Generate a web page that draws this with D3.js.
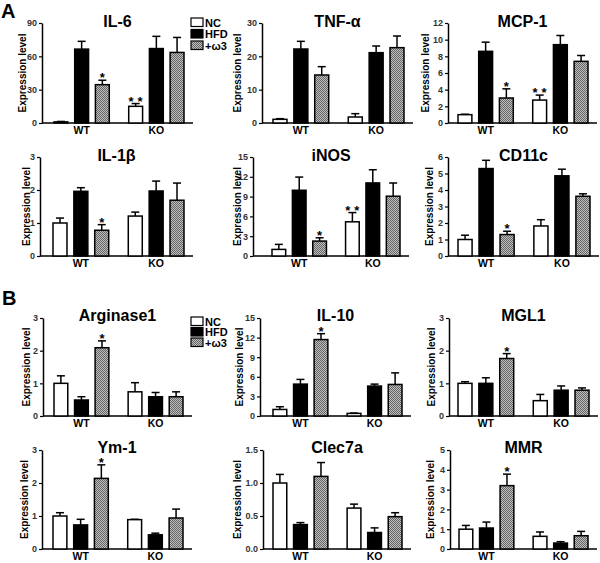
<!DOCTYPE html>
<html><head><meta charset="utf-8">
<script src="https://cdn.jsdelivr.net/npm/d3@7"></script>
<style>body{margin:0;background:#fff}svg{display:block}text{font-family:"Liberation Sans",Arial,sans-serif}</style>
</head><body><div id="chart"></div>
<script>
// ---------- data ----------
const groups = ["WT", "KO"];
const series = ["NC", "HFD", "+ω3"];

const il6Mean = [[1, 66.5, 34.5], [15, 67, 63.5]];
const il6Err  = [[0.4, 7, 4], [2.5, 11, 13.5]];
const il6Stars = [["", "", "*"], ["**", "", ""]];

const tnfMean = [[1.1, 22.2, 14.4], [1.8, 21.1, 22.6]];
const tnfErr  = [[0.2, 2.3, 2.5], [1.0, 2.0, 3.5]];
const tnfStars = [["", "", ""], ["", "", ""]];

const mcp1Mean = [[1.0, 8.6, 3.0], [2.75, 9.4, 7.4]];
const mcp1Err  = [[0.05, 1.1, 1.1], [0.6, 1.1, 0.7]];
const mcp1Stars = [["", "", "*"], ["**", "", ""]];

const il1bMean = [[1.0, 1.96, 0.78], [1.21, 1.97, 1.69]];
const il1bErr  = [[0.15, 0.11, 0.17], [0.12, 0.3, 0.52]];
const il1bStars = [["", "", "*"], ["", "", ""]];

const inosMean = [[1.0, 9.96, 2.26], [5.18, 11.07, 9.06]];
const inosErr  = [[0.76, 2.0, 0.5], [1.4, 2.0, 2.0]];
const inosStars = [["", "", "*"], ["**", "", ""]];

const cd11cMean = [[1.0, 5.3, 1.3], [1.82, 4.86, 3.62]];
const cd11cErr  = [[0.26, 0.5, 0.2], [0.38, 0.4, 0.15]];
const cd11cStars = [["", "", "*"], ["", "", ""]];

const arg1Mean = [[1.0, 0.49, 2.09], [0.74, 0.59, 0.59]];
const arg1Err  = [[0.23, 0.1, 0.21], [0.28, 0.13, 0.15]];
const arg1Stars = [["", "", "*"], ["", "", ""]];

const il10Mean = [[1.0, 4.88, 11.7], [0.4, 4.58, 4.83]];
const il10Err  = [[0.42, 0.72, 0.9], [0.05, 0.3, 1.77]];
const il10Stars = [["", "", "*"], ["", "", ""]];

const mgl1Mean = [[1.0, 1.0, 1.76], [0.47, 0.79, 0.79]];
const mgl1Err  = [[0.05, 0.17, 0.15], [0.19, 0.13, 0.07]];
const mgl1Stars = [["", "", "*"], ["", "", ""]];

const ym1Mean = [[1.0, 0.73, 2.14], [0.89, 0.43, 0.94]];
const ym1Err  = [[0.1, 0.17, 0.41], [0.01, 0.05, 0.27]];
const ym1Stars = [["", "", "*"], ["", "", ""]];

const clec7aMean = [[1.0, 0.37, 1.1], [0.62, 0.25, 0.49]];
const clec7aErr  = [[0.13, 0.03, 0.21], [0.06, 0.07, 0.06]];
const clec7aStars = [["", "", ""], ["", "", ""]];

const mmrMean = [[1.0, 1.06, 3.2], [0.64, 0.3, 0.67]];
const mmrErr  = [[0.19, 0.3, 0.58], [0.22, 0.07, 0.22]];
const mmrStars = [["", "", "*"], ["", "", ""]];

const yMax   = [90, 30, 12, 3, 15, 6, 3, 15, 3, 3, 1.5, 5];
const yStep  = [30, 10, 2, 1, 3, 1, 1, 3, 1, 1, 0.5, 1];
const titles = ["IL-6", "TNF-α", "MCP-1", "IL-1β", "iNOS", "CD11c",
                "Arginase1", "IL-10", "MGL1", "Ym-1", "Clec7a", "MMR"];
const yLabel = "Expression level";

const panelData = [
  [il6Mean, il6Err, il6Stars], [tnfMean, tnfErr, tnfStars], [mcp1Mean, mcp1Err, mcp1Stars],
  [il1bMean, il1bErr, il1bStars], [inosMean, inosErr, inosStars], [cd11cMean, cd11cErr, cd11cStars],
  [arg1Mean, arg1Err, arg1Stars], [il10Mean, il10Err, il10Stars], [mgl1Mean, mgl1Err, mgl1Stars],
  [ym1Mean, ym1Err, ym1Stars], [clec7aMean, clec7aErr, clec7aStars], [mmrMean, mmrErr, mmrStars]
];

// ---------- layout ----------
const rowTop = [23, 157, 318, 450], rowBot = [123, 256, 416, 549];
const titleBase = [27, 161, 321, 453];
// [axisX, barsLeft, barsRight, yLabelX]
const geom = [
  [42, 54, 184, 22], [262, 273, 404, 237], [448, 458, 588, 425],
  [40, 53, 184, 26], [253, 272, 400, 237], [448, 458, 590, 429],
  [43, 54, 183, 26], [260, 273, 402, 239], [449, 458, 589, 431],
  [42, 53, 183, 24], [263, 273, 402, 237], [450, 459, 588, 430]
];
const fills = ["#ffffff", "#000000", "url(#hatch)"];

const W = 600, H = 563;
const svg = d3.select("#chart").append("svg").attr("width", W).attr("height", H);
const defs = svg.append("defs");
const pat = defs.append("pattern").attr("id", "hatch").attr("patternUnits", "userSpaceOnUse")
  .attr("width", 2).attr("height", 2);
pat.append("rect").attr("width", 2).attr("height", 2).attr("fill", "#bdbdbd");
pat.append("rect").attr("x", 0).attr("y", 0).attr("width", 1).attr("height", 1).attr("fill", "#666");
pat.append("rect").attr("x", 1).attr("y", 1).attr("width", 1).attr("height", 1).attr("fill", "#666");

panelData.forEach((pd, i) => {
  const [means, errs, stars] = pd;
  const row = Math.floor(i / 3);
  const [axX, bL, bR, labX] = geom[i];
  const top = rowTop[row], bot = rowBot[row];
  const axEnd = bR + 9;
  const g = svg.append("g");

  const y = d3.scaleLinear().domain([0, yMax[i]]).range([bot, top]);
  const x0 = d3.scaleBand().domain(groups).range([bL, bR]).paddingInner(0.26).paddingOuter(0);
  const x1 = d3.scaleBand().domain(series).range([0, x0.bandwidth()]).paddingInner(0.33).paddingOuter(0);

  const ticks = d3.range(0, yMax[i] + yStep[i] / 2, yStep[i]);
  const fmt = yStep[i] < 1 ? d3.format(".1f") : d3.format("d");
  const yAxis = d3.axisLeft(y).tickValues(ticks).tickFormat(fmt).tickSizeInner(3).tickSizeOuter(0).tickPadding(2);
  const ag = g.append("g").attr("transform", `translate(${axX},0)`).call(yAxis);
  ag.select(".domain").attr("stroke", "#000").attr("stroke-width", 1.5);
  ag.selectAll(".tick line").attr("stroke", "#000").attr("stroke-width", 1.2);
  ag.selectAll(".tick text").attr("font-size", 9).attr("font-weight", "bold").attr("fill", "#333")
    .attr("font-family", '"Liberation Sans",Arial,sans-serif');

  g.append("line").attr("x1", axX).attr("x2", axEnd).attr("y1", bot).attr("y2", bot)
    .attr("stroke", "#000").attr("stroke-width", 1.5);
  groups.forEach(gr => {
    g.append("text").attr("x", x0(gr) + x0.bandwidth() / 2).attr("y", bot + 11)
      .attr("text-anchor", "middle").attr("font-size", 10.5).attr("font-weight", "bold").text(gr);
  });

  groups.forEach((gr, gi) => {
    series.forEach((s, si) => {
      const v = means[gi][si], e = errs[gi][si];
      const bx = x0(gr) + x1(s), bw = x1.bandwidth();
      const cx = bx + bw / 2;
      const yTop = y(v + e);
      if (e > 0) {
        g.append("line").attr("x1", cx).attr("x2", cx).attr("y1", y(v)).attr("y2", yTop)
          .attr("stroke", "#000").attr("stroke-width", 1.5);
        g.append("line").attr("x1", cx - 4).attr("x2", cx + 4).attr("y1", yTop).attr("y2", yTop)
          .attr("stroke", "#000").attr("stroke-width", 1.5);
      }
      g.append("rect").attr("x", bx).attr("y", y(v)).attr("width", bw).attr("height", y(0) - y(v))
        .attr("fill", fills[si]).attr("stroke", "#000").attr("stroke-width", 1.5);
      const st = stars[gi][si];
      if (st) {
        const n = st.length;
        for (let k = 0; k < n; k++) {
          const off = n === 1 ? 0 : (k === 0 ? -4.5 : 4.5);
          g.append("text").attr("x", cx + off).attr("y", yTop + 2).attr("text-anchor", "middle")
            .attr("font-size", 13).attr("font-weight", "bold").text("*");
        }
      }
    });
  });

  g.append("text").attr("x", (axX + axEnd) / 2).attr("y", titleBase[row]).attr("text-anchor", "middle")
    .attr("font-size", 16).attr("font-weight", "bold").text(titles[i]);
  g.append("text").attr("transform", `translate(${labX + 3.5},${(top + bot) / 2}) rotate(-90)`)
    .attr("text-anchor", "middle").attr("font-size", 10).attr("font-weight", "bold").text(yLabel);
});

[[18, 11.5], [317, 10.5]].forEach(([ly, dy]) => {
  series.forEach((s, si) => {
    const yy = ly + si * dy;
    svg.append("rect").attr("x", 191).attr("y", yy).attr("width", 12).attr("height", 8.5)
      .attr("fill", fills[si]).attr("stroke", "#000").attr("stroke-width", 1.2);
    svg.append("text").attr("x", 205).attr("y", yy + 8.5).attr("font-size", 11).attr("font-weight", "bold").text(s);
  });
});

svg.append("text").attr("x", 1).attr("y", 18).attr("font-size", 20).attr("font-weight", "bold").text("A");
svg.append("text").attr("x", 2).attr("y", 305).attr("font-size", 20).attr("font-weight", "bold").text("B");
</script></body></html>
